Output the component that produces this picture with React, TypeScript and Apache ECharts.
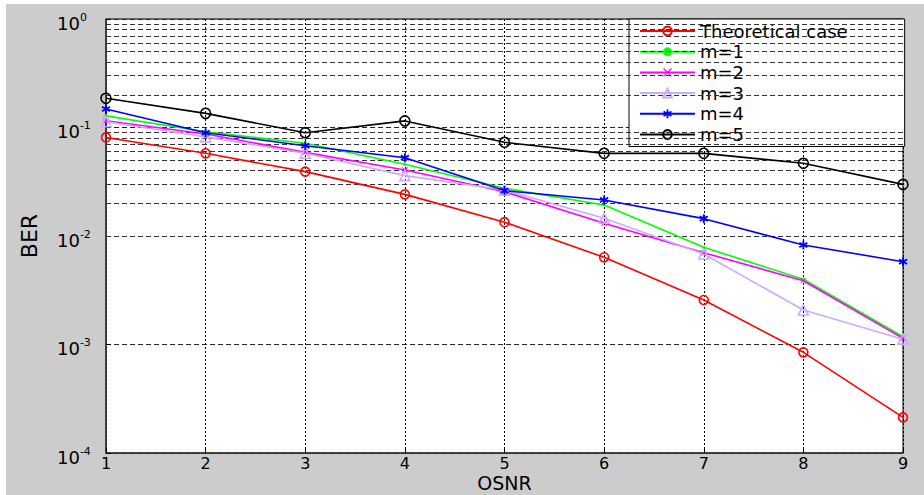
import React, { useEffect, useRef } from "react";
import * as echarts from "echarts";

const osnr = [1, 2, 3, 4, 5, 6, 7, 8, 9];
const theoretical = [0.081, 0.0578, 0.0392, 0.0242, 0.0134, 0.00636, 0.00257, 0.000847, 0.000213];
const m1 = [0.128, 0.0915, 0.0715, 0.0458, 0.0275, 0.0193, 0.00787, 0.00399, 0.00118];
const m2 = [0.1156, 0.0871, 0.059, 0.0406, 0.0256, 0.0131, 0.00702, 0.00387, 0.00114];
const m3 = [0.113, 0.082, 0.058, 0.036, 0.0265, 0.01456, 0.00683, 0.00208, 0.00112];
const m4 = [0.148, 0.0895, 0.0679, 0.0527, 0.0262, 0.0215, 0.01445, 0.00826, 0.0058];
const m5 = [0.186, 0.135, 0.0895, 0.115, 0.073, 0.0578, 0.0578, 0.0468, 0.0299];
const seriesNames = ["Theoretical case", "m=1", "m=2", "m=3", "m=4", "m=5"];
const decades = [0.0001, 0.001, 0.01, 0.1];
const mantissas = [2, 3, 4, 5, 6, 7, 8, 9];
const minorGrid = decades.flatMap((d) => mantissas.map((m) => +(d * m).toPrecision(3)));

const FONT = "DejaVu Sans";

const xMark = "path://M1,0L5,4L9,0L10,1L6,5L10,9L9,10L5,6L1,10L0,9L4,5L0,1Z";
const starMark =
  "path://M4,0H6V3.3L8.9,1.6L9.9,3.3L7,5L9.9,6.7L8.9,8.4L6,6.7V10H4V6.7L1.1,8.4L0.1,6.7L3,5L0.1,3.3L1.1,1.6L4,3.3Z";

function pairs(vals: number[]) {
  return osnr.map((x, i) => [x, vals[i]]);
}

export default function App() {
  const ref = useRef<HTMLDivElement>(null);
  useEffect(() => {
    if (!ref.current) return;
    const chart = echarts.init(ref.current, null, { renderer: "svg" });
    const lineW = 1.6;
    const mk = (
      name: string,
      data: number[],
      color: string,
      symbol: string,
      size: number,
      hollow: boolean
    ) => ({
      name,
      type: "line",
      data: pairs(data),
      symbol,
      symbolSize: size,
      showSymbol: true,
      z: 5,
      lineStyle: { color, width: lineW },
      itemStyle: hollow
        ? { color: "rgba(0,0,0,0)", borderColor: color, borderWidth: 1.6 }
        : { color, borderWidth: 0 },
    });
    chart.setOption({
      animation: false,
      backgroundColor: "#cccccc",
      grid: {
        left: 100,
        top: 15,
        right: 21,
        bottom: 42,
        containLabel: false,
        outerBoundsMode: "none",
        show: true,
        backgroundColor: "#ffffff",
        borderColor: "#000",
        borderWidth: 1,
      },
      legend: {
        data: seriesNames,
        orient: "vertical",
        left: 623,
        top: 15,
        itemWidth: 55,
        itemHeight: 11,
        itemGap: 2.7,
        padding: [3, 57, 3, 10],
        backgroundColor: "#fff",
        borderColor: "#000",
        borderWidth: 1,
        borderRadius: 0,
        textStyle: { fontFamily: FONT, fontSize: 18, color: "#000", lineHeight: 18 },
      },
      xAxis: {
        type: "value",
        min: 1,
        max: 9,
        interval: 1,
        name: "OSNR",
        nameLocation: "middle",
        nameGap: 20,
        nameMoveOverlap: false,
        nameTextStyle: { fontFamily: FONT, fontSize: 19, color: "#000", lineHeight: 19 },
        axisLine: { lineStyle: { color: "#333", width: 1.5 } },
        axisTick: { inside: true, length: 5, lineStyle: { color: "#000" } },
        axisLabel: { fontFamily: FONT, fontSize: 16, color: "#000", margin: 3, lineHeight: 15 },
        splitLine: { show: true, lineStyle: { color: "#000", type: [2, 2], width: 1 } },
      },
      yAxis: {
        type: "log",
        logBase: 10,
        min: 0.0001,
        max: 1,
        name: "BER",
        nameLocation: "middle",
        nameGap: 66,
        nameMoveOverlap: false,
        nameRotate: 90,
        nameTextStyle: { fontFamily: FONT, fontSize: 22, color: "#000" },
        axisLine: { lineStyle: { color: "#333", width: 1.5 } },
        axisTick: { inside: true, length: 5, lineStyle: { color: "#000" } },
        axisLabel: {
          margin: 49,
          align: "left",
          formatter: (v: number) => `{b|10}{s|${Math.round(Math.log10(v))}}`,
          rich: {
            b: { fontFamily: FONT, fontSize: 18, color: "#000", padding: [8, 0, 0, 0] },
            s: { fontFamily: FONT, fontSize: 11, color: "#000", padding: [0, 0, 4, 0] },
          },
        },
        splitLine: { show: true, lineStyle: { color: "#222", type: [5, 3], width: 1 } },
      },
      series: [
        {
          name: "grid-minor",
          type: "line",
          data: [],
          z: 1,
          silent: true,
          markLine: {
            silent: true,
            symbol: ["none", "none"],
            label: { show: false },
            lineStyle: { color: "#333", type: [5, 3], width: 1 },
            data: minorGrid.map((v) => ({ yAxis: v })),
          },
        },
        mk("Theoretical case", theoretical, "#ff0000", "circle", 9, true),
        mk("m=1", m1, "#00ff00", "circle", 3, false),
        mk("m=2", m2, "#ff00ff", xMark, 6, false),
        mk("m=3", m3, "#ccaaff", "triangle", 10, true),
        mk("m=4", m4, "#0000ff", starMark, 9, false),
        mk("m=5", m5, "#000000", "circle", 10, true),
      ],
    });
    return () => chart.dispose();
  }, []);
  return (
    <div
      ref={ref}
      style={{ position: "absolute", left: 6, top: 4, width: 918, height: 491 }}
    />
  );
}
